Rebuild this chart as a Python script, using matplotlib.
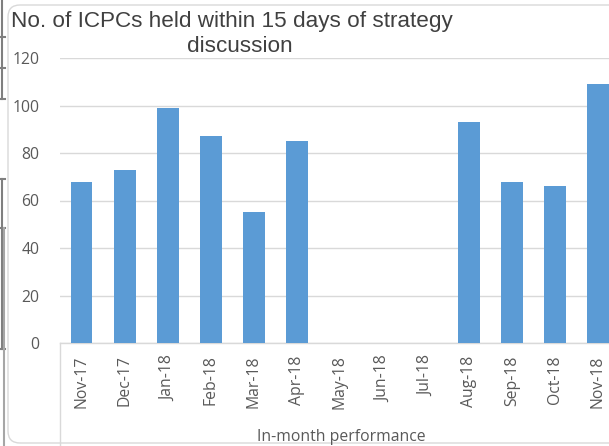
import matplotlib
matplotlib.use("Agg")
import matplotlib.pyplot as plt
from matplotlib.patches import FancyBboxPatch
from matplotlib.lines import Line2D
from matplotlib.transforms import IdentityTransform
import numpy as np

months = ["Nov-17", "Dec-17", "Jan-18", "Feb-18", "Mar-18", "Apr-18", "May-18",
          "Jun-18", "Jul-18", "Aug-18", "Sep-18", "Oct-18", "Nov-18"]
values = [68, 73, 99, 87, 55, 85, np.nan, np.nan, np.nan, 93, 68, 66, 109]
yticks = [0, 20, 40, 60, 80, 100, 120]
title_lines = ["No. of ICPCs held within 15 days of strategy", "discussion"]
xlabel = "In-month performance"

W, H = 609, 446
DPI = 100
fig = plt.figure(figsize=(W / DPI, H / DPI), dpi=DPI)
fig.patch.set_facecolor("white")

left, right, top, bottom = 60, 619.5, 58, 343
ax = fig.add_axes([left / W, 1 - bottom / H, (right - left) / W, (bottom - top) / H])

x = np.arange(len(months))
ax.bar(x, values, width=0.51, color="#5B9BD5", zorder=3)
ax.set_xlim(-0.5, len(months) - 0.5)
ax.set_ylim(0, 120)
ax.set_yticks(yticks)
ax.set_xticks(x)
ax.set_xticklabels(months, rotation=90, fontsize=11.3, color="#595959", family="Open Sans")
ax.set_yticklabels([str(v) for v in yticks], fontsize=11.3, color="#595959", family="Open Sans")
ax.tick_params(axis="y", length=0, pad=15)
ax.tick_params(axis="x", length=0, pad=9)
ax.grid(axis="y", color="#d9d9d9", linewidth=1, zorder=0)
for s in ["top", "right", "left"]:
    ax.spines[s].set_visible(False)
ax.spines["bottom"].set_color("#d9d9d9")
ax.spines["bottom"].set_linewidth(1)
ax.set_facecolor("none")

# vertical line under the axis at the left edge of the category axis
fig.add_artist(Line2D([left / W, left / W], [1 - bottom / H, 0], color="#d9d9d9",
                      linewidth=1, transform=fig.transFigure))

# title
fig.text(232 / W, 1 - 22 / H, title_lines[0],
         ha="center", va="center", fontsize=16.2, color="#404040", family="Liberation Sans")
fig.text(240 / W, 1 - 47 / H, title_lines[1],
         ha="center", va="center", fontsize=16.2, color="#404040", family="Liberation Sans")

# x axis label
fig.text(341 / W, 1 - 437 / H, xlabel, ha="center", va="center", fontsize=11.3,
         color="#595959", family="Open Sans")

# rounded chart border (pixel coordinates)
border = FancyBboxPatch((8, 3), 700, H - 8, boxstyle="round,pad=0,rounding_size=12",
                        transform=IdentityTransform(), facecolor="none",
                        edgecolor="#d9d9d9", linewidth=1)
fig.add_artist(border)

# left edge artifacts
dk = "#7f7f7f"
lt = "#a6a6a6"
def seg(x0, y0, x1, y1, c, lw=1.5):
    fig.add_artist(Line2D([x0 / W, x1 / W], [1 - y0 / H, 1 - y1 / H], color=c,
                          linewidth=lw, transform=fig.transFigure))
seg(1.5, 0, 1.5, 99, dk)
for yy in (37, 68, 99):
    seg(0, yy, 5, yy, dk)
seg(1.5, 179, 1.5, 349, dk)
for yy in (179, 228, 349):
    seg(0, yy, 5, yy, dk)
seg(3.5, 228, 3.5, 446, lt)

fig.savefig("out.png", dpi=DPI)
